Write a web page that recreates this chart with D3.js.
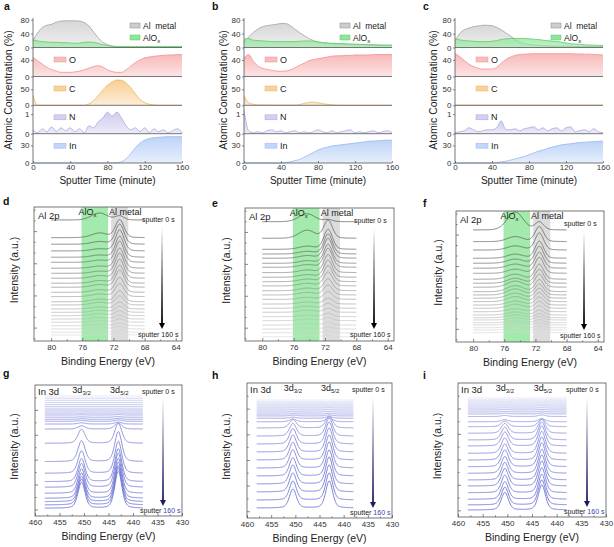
<!DOCTYPE html>
<html><head><meta charset="utf-8">
<script src="https://cdn.jsdelivr.net/npm/d3@7"></script>
<style>body{margin:0;background:#fff}svg{display:block}</style>
</head><body>
<script>
// ---------------- DATA ----------------
const time = [0,5,10,15,20,25,30,35,40,45,50,55,60,65,70,75,80,85,90,95,100,105,110,115,120,125,130,135,140,145,150,155,160];
const timeTicks = [0,40,80,120,160];

// panel a
const alMetalA = [20,42,58,64,67,73,76,77,77,77,76,72,62,45,28,15,8,4,2,1,1,0.5,0.5,0.5,0.5,0.5,0.5,0.5,0.5,0.5,0.5,0.5,0.5];
const alOxA    = [22,19,17,16,15,15,14,14,13,12,13,15,16,15,12,8,6,4,3,3,3,3,3,3,3,3,3,3,3,3,3,3,3];
const oA       = [46,38,30,22,17,13,10,10,10,11,13,16,20,24,26,23,16,12,10,10,16,25,34,40,45,47,49,50,51,52,52,53,53];
const cA       = [30,0,0,0,0,0,0,0,0,0,0,0,4,14,30,48,63,73,79,78,70,55,35,18,8,3,1,0,0,0,0,0,0];
const nA       = [0.2,0.05,0.25,0.1,0.35,0.1,0.3,0.15,0.3,0.1,0.25,0.05,0.4,0.3,0.6,0.8,1.1,0.9,1.1,0.8,0.4,0.2,0.3,0.1,0.3,0.05,0.25,0.1,0.2,0.05,0.15,0.25,0.05];
const inA      = [0,0,0,0,0,0,0,0,0,0,0,0,0,0,0,0,0,0,0.5,2,7,16,26,34,39,42,43,44,44.5,45,45,45,45];
// panel b
const alMetalB = [15,30,43,53,60,63,65,67,69,69,63,53,43,34,26,20,16,14,12,11,10,10,9,9,8,8,8,7,7,7,6,6,6];
const alOxB    = [24,26,21,20,19,18,17,17,17,17,17,17,18,19,19,18,16,14,13,12,12,11,11,10,10,9,9,8,8,7,7,7,7];
const oB       = [44,53,37,25,20,17,15,13,12.5,13,16,21,27,32,38,41,43,45,47,49,50,50,51,51,52,52,52,52,53,53,53,53,53];
const cB       = [30,8,3,1,1,1,0.5,0.5,0.5,0.5,0.5,0.5,2,6,9,10,8,5,3,1,0.5,0,0,0,0,0,0,0,0,0,0,0,0];
const nB       = [1.2,0.15,0.05,0.1,0.05,0.15,0.2,0.1,0.15,0.05,0.1,0.15,0.05,0.1,0.05,0.1,0.2,0.1,0.05,0.15,0.05,0.1,0.15,0.2,0.05,0.1,0.05,0.1,0.15,0.05,0.1,0.15,0.05];
const inB      = [0,0,0,0,0,0,0,0,0,0.5,2,4,6,10,14,18,22,25,27,29,30,31,32,33,34,35,36,37,37.5,38,38.5,39,39];
// panel c
const alMetalC = [18,40,51,56,60,62,64,64,63,58,51,42,33,23,15,11,9,7,6,5,5,4,4,4,4,4,3,3,3,3,3,3,3];
const alOxC    = [25,22,20,19,18,17,17,17,18,20,23,25,26,26,26,26,25,24,23,21,20,18,17,15,13,11,10,9,8,7,7,6,6];
const oC       = [56,48,39,30,24,20,18,18,18,22,32,41,47,51,53,54,54.5,55,55,55,55,55,55,55,55,55,54.5,54.5,54,54,53,52.5,52];
const cC       = [0.3,0.3,0.3,0.3,0.3,0.3,0.3,0.3,0.3,0.3,0.3,0.3,0.3,0.3,0.3,0.3,0.3,0.3,0.3,0.3,0.3,0.3,0.3,0.3,0.3,0.3,0.3,0.3,0.3,0.3,0.3,0.3,0.3];
const nC       = [0.05,0.1,0.15,0.3,0.2,0.1,0.15,0.2,0.2,0.3,0.65,0.2,0.2,0.25,0.15,0.25,0.3,0.35,0.2,0.3,0.15,0.25,0.3,0.15,0.3,0.35,0.1,0.15,0.2,0.1,0.25,0.1,0.05];
const inC      = [0,0,0,0,0,0,0,0,0,0.5,2,3,5,7,9,11,14,17,20,22,25,27,29,31,32,33,34,35,35.5,36,36.5,37,37.5];

// Al 2p spectra: baseline offset, Al-metal peak height, AlOx peak height (intensity units 0-100 of frame)
const alBaseD = [90.3,77.1,72.2,67.2,62.5,58.7,54.3,50.5,46.8,43.1,40.1,36.3,33.1,29.3,26.9,23.9,21.4,18.9,16.4,14.0,11.4,9.0,6.5,4.5];
const alMetD  = [3,13.4,15,15.7,15.7,15.7,15,15,14.2,13.4,12.7,11.2,9.7,8.2,6.7,5.2,4.5,3.7,3,2.6,2.2,1.9,1.5,1.5];
const alOxD   = [5.2,3.4,1.9,1.5,1.5,1.5,1.5,1.5,1.9,1.9,1.9,1.9,1.9,1.9,1.9,1.5,1.5,1.5,1.1,1.1,1.1,1.1,0.7,0.7];
const alBaseE = [89.7,77.2,68.9,65.4,62.2,58.4,55.4,51.4,47.9,44.6,41.4,37.8,34.6,31.3,27.8,24.6,21.6,18.3,15.3,12.0,9.0,6.2,3.2];
const alMetE  = [1.5,13.5,15,15,15,14.3,14.3,13.5,12.8,12,10.5,9,7.5,6,4.5,3.8,3,2.6,2.3,1.9,1.5,1.5,1.1];
const alOxE   = [6,6,2.3,1.9,1.9,1.9,1.9,1.9,1.9,1.9,1.9,1.9,1.9,1.5,1.5,1.5,1.5,1.1,1.1,1.1,0.8,0.8,0.8];
const alBaseF = [85.5,76.6,70.2,63.9,60.1,56.3,52.4,47.9,44.8,41.8,38.4,35.9,33.4,30.8,28.2,25.7,23.1,20.6,18.5,16.8,14.7,13.0,10.9,9.2,7.1];
const alMetF  = [6.1,11.5,13,13,13,12.2,12.2,11.5,10.7,9.9,9.2,8.4,7.6,6.9,6.1,5.3,4.6,3.8,3.1,2.7,2.3,1.9,1.5,1.5,1.1];
const alOxF   = [13.7,3.8,3.1,3.1,3.1,3.1,3.1,3.8,3.8,4.6,4.6,4.6,3.8,3.8,3.1,3.1,2.3,2.3,2.3,1.5,1.5,1.5,1.5,1.1,1.1];
const alTicks = [80,76,72,68,64];
const alMinor = [78,74,70,66];

// In 3d spectra: baseline offset, 3d5/2 height, 3d3/2 height
const inBaseG = [91.6,89.9,88.3,86.6,85.0,83.4,81.7,80.2,78.6,77.1,75.4,73.8,72.3,70.2,66.4,55.5,41.5,32.6,26.2,21.9,17.3,13.5,10.9,8.4,5.9];
const in52G   = [0,0,0,0,0,0,0,0,0,0.3,0.5,0.7,1,1.5,4.6,15.3,22.9,24.4,25.2,26,26.7,27.5,27.5,28.2,28.2];
const in32G   = [0,0,0,0,0,0,0,0,0,0.2,0.3,0.5,0.7,1,2.5,10.7,16,17.1,17.6,18.2,18.7,19.2,19.2,19.7,19.7];
const inBaseH = [87.4,85.9,84.4,83.0,81.5,80.0,78.5,77.0,75.6,73.9,71.3,66.7,60.7,54.8,48.9,43.0,37.0,31.1,25.2,19.3,13.3,7.4];
const in52H   = [0,0,0,0,0.2,0.3,0.4,0.6,0.8,1.2,3,8.9,13.3,16.3,17.8,18.5,19.3,19.3,20,20,20,20];
const in32H   = [0,0,0,0,0.1,0.2,0.3,0.4,0.6,0.8,2,6.2,9.3,11.4,12.5,13,13.5,13.5,14,14,14,14];
const inBaseI = [88.8,87.3,85.8,84.3,82.8,81.3,79.9,78.4,76.9,75.0,71.1,67.4,62.5,57.5,53.0,47.5,42.5,37.5,32.6,27.6,23.1,18.1,13.2,9.0,5.2];
const in52I   = [0,0,0,0,0.2,0.3,0.4,0.6,0.8,1.2,2.2,6,10.4,13.4,14.9,16.4,17.2,17.9,17.9,18.7,18.7,18.7,18.7,18.7,18.7];
const in32I   = [0,0,0,0,0.1,0.2,0.3,0.4,0.6,0.8,1.5,4.2,7.3,9.4,10.4,11.5,12,12.5,12.5,13.1,13.1,13.1,13.1,13.1,13.1];
const inTicks = [460,455,450,445,440,435,430];
const inMinor = [457.5,452.5,447.5,442.5,437.5,432.5];

// ---------------- DRAW ----------------
const W = 614, H = 547;
const FONT = 'Arial, "Liberation Sans", Helvetica, sans-serif';
const svg = d3.select('body').append('svg').attr('width', W).attr('height', H).style('font-family', FONT);
svg.append('rect').attr('width', W).attr('height', H).attr('fill', '#fff');
const defs = svg.append('defs');
const TXT = '#222', AX = '#555';

function letter(t, x, y) {
  svg.append('text').attr('x', x).attr('y', y).attr('font-size', 10.5).attr('font-weight', 'bold').attr('fill', '#111').text(t);
}
function styleAxis(sel, fs) {
  sel.selectAll('path.domain').remove();
  sel.selectAll('line').attr('stroke', AX).attr('stroke-width', 0.7);
  sel.selectAll('text').attr('font-size', fs).attr('fill', '#333').attr('font-family', FONT);
}

// ---- depth profiles (a,b,c)
const colors = {
  al: {fill: '#cdcdcd', line: '#a3a3a3'},
  ox: {fill: '#8ee69a', line: '#5ccb69'},
  O:  {fill: '#f6a7a7', line: '#f29090'},
  C:  {fill: '#f7c37a', line: '#f0b560'},
  N:  {fill: '#c3bfeb', line: '#aca7de'},
  In: {fill: '#adc9f4', line: '#98b8ef'}
};
Object.entries(colors).forEach(([k, c]) => {
  const g = defs.append('linearGradient').attr('id', 'g_' + k).attr('x1', 0).attr('y1', 0).attr('x2', 0).attr('y2', 1);
  g.append('stop').attr('offset', 0).attr('stop-color', c.fill).attr('stop-opacity', k === 'ox' ? 0.75 : 0.8);
  g.append('stop').attr('offset', 1).attr('stop-color', c.fill).attr('stop-opacity', k === 'ox' ? 0.55 : 0.3);
});

const subBounds = [18, 47.5, 76.5, 105.3, 133.7, 163];
const subDefs = [
  {keys: ['al', 'ox'], domain: [0, 85], ticks: [0, 40, 80]},
  {keys: ['O'], domain: [0, 70], ticks: [0, 40], label: 'O'},
  {keys: ['C'], domain: [0, 90], ticks: [0, 50], label: 'C'},
  {keys: ['N'], domain: [0, 1.45], ticks: [0, 1], label: 'N'},
  {keys: ['In'], domain: [0, 50], ticks: [0, 30], label: 'In'}
];
const profiles = [
  {letter: 'a', lx: 4, x0: 33, x1: 182, ylx: 12, s: {al: alMetalA, ox: alOxA, O: oA, C: cA, N: nA, In: inA}},
  {letter: 'b', lx: 212, x0: 244, x1: 392, ylx: 227, s: {al: alMetalB, ox: alOxB, O: oB, C: cB, N: nB, In: inB}},
  {letter: 'c', lx: 423, x0: 455, x1: 603, ylx: 437, s: {al: alMetalC, ox: alOxC, O: oC, C: cC, N: nC, In: inC}}
];

profiles.forEach(p => {
  letter(p.letter, p.lx, 10);
  const g = svg.append('g');
  const x = d3.scaleLinear().domain([0, 160]).range([p.x0, p.x1]);
  subDefs.forEach((s, k) => {
    const yTop = subBounds[k], yBot = subBounds[k + 1];
    const y = d3.scaleLinear().domain(s.domain).range([yBot, yTop]);
    s.keys.forEach(key => {
      const vals = p.s[key];
      const area = d3.area().x((d, i) => x(time[i])).y0(yBot).y1(d => y(d)).curve(d3.curveMonotoneX);
      const line = d3.line().x((d, i) => x(time[i])).y(d => y(d)).curve(d3.curveMonotoneX);
      g.append('path').datum(vals).attr('d', area).attr('fill', `url(#g_${key})`);
      g.append('path').datum(vals).attr('d', line).attr('fill', 'none').attr('stroke', colors[key].line).attr('stroke-width', 0.8);
    });
    const ax = g.append('g').attr('transform', `translate(${p.x0},0)`)
      .call(d3.axisLeft(y).tickValues(s.ticks).tickFormat(d3.format('~g')).tickSize(2).tickPadding(1.5));
    styleAxis(ax, 8);
    g.append('line').attr('x1', p.x0).attr('x2', p.x1).attr('y1', yBot).attr('y2', yBot).attr('stroke', AX).attr('stroke-width', 0.8);
    if (s.label) {
      const ly = yTop + 9.5;
      g.append('rect').attr('x', p.x0 + 21).attr('y', ly).attr('width', 12).attr('height', 5)
        .attr('fill', colors[s.keys[0]].fill).attr('fill-opacity', 0.75).attr('stroke', colors[s.keys[0]].line).attr('stroke-width', 0.5);
      g.append('text').attr('x', p.x0 + 36).attr('y', ly + 5.5).attr('font-size', 9).attr('fill', TXT).text(s.label);
    } else {
      const lx = p.x1 - 52;
      g.append('rect').attr('x', lx).attr('y', 23).attr('width', 10).attr('height', 5)
        .attr('fill', colors.al.fill).attr('stroke', '#888').attr('stroke-width', 0.5);
      g.append('text').attr('x', lx + 13).attr('y', 28.5).attr('font-size', 8.5).attr('fill', TXT).attr('xml:space', 'preserve').text('Al  metal');
      g.append('rect').attr('x', lx).attr('y', 35).attr('width', 10).attr('height', 5)
        .attr('fill', colors.ox.fill).attr('stroke', colors.ox.line).attr('stroke-width', 0.5);
      const t = g.append('text').attr('x', lx + 13).attr('y', 40.5).attr('font-size', 8.5).attr('fill', TXT).text('AlO');
      t.append('tspan').attr('dy', 2).attr('font-size', 6).text('x');
    }
  });
  g.append('line').attr('x1', p.x0).attr('x2', p.x0).attr('y1', subBounds[0]).attr('y2', subBounds[5]).attr('stroke', AX).attr('stroke-width', 0.8);
  const xa = g.append('g').attr('transform', `translate(0,${subBounds[5]})`)
    .call(d3.axisBottom(x).tickValues(timeTicks).tickSize(-2).tickPadding(1));
  styleAxis(xa, 8);
  svg.append('text').attr('x', (p.x0 + p.x1) / 2).attr('y', 184).attr('text-anchor', 'middle').attr('font-size', 10).attr('fill', TXT).text('Sputter Time (minute)');
  svg.append('text').attr('transform', `translate(${p.ylx},${90}) rotate(-90)`).attr('text-anchor', 'middle').attr('font-size', 10.5).attr('fill', TXT).text('Atomic Concentration (%)');
});

// ---- spectra helpers
function pv(e, c, w, eta) {
  const d = (e - c) / w;
  return eta / (1 + 4 * d * d) + (1 - eta) * Math.exp(-4 * Math.LN2 * d * d);
}
let clipId = 0;
function arrow(g, ax, ya, yb, endColor, id) {
  const gr = defs.append('linearGradient').attr('id', id).attr('x1', 0).attr('y1', 0).attr('x2', 0).attr('y2', 1);
  gr.append('stop').attr('offset', 0).attr('stop-color', '#fff');
  gr.append('stop').attr('offset', 1).attr('stop-color', endColor);
  g.append('rect').attr('x', ax - 0.9).attr('y', ya).attr('width', 1.8).attr('height', yb - ya - 5).attr('fill', `url(#${id})`);
  g.append('path').attr('d', `M${ax - 3},${yb - 6} L${ax + 3},${yb - 6} L${ax},${yb} Z`).attr('fill', endColor);
}
function frameAxes(g, p, x, y, ticks, minor, yMajor, yMinor) {
  g.append('rect').attr('x', p.x0).attr('y', p.y0).attr('width', p.x1 - p.x0).attr('height', p.y1 - p.y0)
    .attr('fill', 'none').attr('stroke', AX).attr('stroke-width', 0.8);
  const xa = g.append('g').attr('transform', `translate(0,${p.y1})`).call(d3.axisBottom(x).tickValues(ticks).tickSize(-3).tickPadding(3));
  styleAxis(xa, 8);
  const xm = g.append('g').attr('transform', `translate(0,${p.y1})`).call(d3.axisBottom(x).tickValues(minor).tickSize(-1.6).tickFormat(''));
  styleAxis(xm, 8);
  const ya = g.append('g').attr('transform', `translate(${p.x0},0)`).call(d3.axisLeft(y).tickValues(yMajor).tickSize(-3).tickFormat(''));
  styleAxis(ya, 8);
  const ym = g.append('g').attr('transform', `translate(${p.x0},0)`).call(d3.axisLeft(y).tickValues(yMinor).tickSize(-1.6).tickFormat(''));
  styleAxis(ym, 8);
  g.append('text').attr('x', (p.x0 + p.x1) / 2).attr('y', p.y1 + 24).attr('text-anchor', 'middle').attr('font-size', 10.5).attr('fill', TXT).text('Binding Energy (eV)');
  g.append('text').attr('transform', `translate(${p.ylx},${(p.y0 + p.y1) / 2 - 4}) rotate(-90)`).attr('text-anchor', 'middle').attr('font-size', 10.5).attr('fill', TXT).text('Intensity (a.u.)');
}
function clip(p) {
  const id = 'clip' + (clipId++);
  defs.append('clipPath').attr('id', id).append('rect').attr('x', p.x0).attr('y', p.y0).attr('width', p.x1 - p.x0).attr('height', p.y1 - p.y0);
  return id;
}

// ---- Al 2p (d,e,f)
const alPanels = [
  {letter: 'd', lx: 3, ly: 205, x0: 34, x1: 182, y0: 207, y1: 341, ylx: 18, base: alBaseD, met: alMetD, ox: alOxD, cM: 71.2, cO: 73.8},
  {letter: 'e', lx: 212, ly: 207, x0: 245, x1: 394, y0: 208, y1: 341, ylx: 230, base: alBaseE, met: alMetE, ox: alOxE, cM: 71.6, cO: 74.3},
  {letter: 'f', lx: 423, ly: 207, x0: 456, x1: 604, y0: 211, y1: 342, ylx: 442, base: alBaseF, met: alMetF, ox: alOxF, cM: 71.5, cO: 74.6}
];
const alEnergies = d3.range(80, 67.999, -0.05);
alPanels.forEach((p, pi) => {
  letter(p.letter, p.lx, p.ly);
  const g = svg.append('g');
  const x = d3.scaleLinear().domain([82.2, 63.2]).range([p.x0, p.x1]);
  const y = d3.scaleLinear().domain([0, 100]).range([p.y1, p.y0]);
  const cid = clip(p);
  const pg = g.append('g').attr('clip-path', `url(#${cid})`);
  pg.append('rect').attr('x', x(76.1)).attr('y', p.y0).attr('width', x(72.7) - x(76.1)).attr('height', p.y1 - p.y0).attr('fill', '#a3eaac');
  pg.append('rect').attr('x', x(72.3)).attr('y', p.y0).attr('width', x(70.1) - x(72.3)).attr('height', p.y1 - p.y0).attr('fill', '#dcdcdc');
  const n = p.base.length;
  const col = d3.interpolateRgb('#4a4a4a', '#d9d9d9');
  const line = d3.line().x(d => x(d[0])).y(d => y(d[1])).curve(d3.curveLinear);
  for (let i = n - 1; i >= 0; i--) {
    const pts = alEnergies.map(e => [e, p.base[i] + p.met[i] * pv(e, p.cM, 1.3, 0.2) + p.ox[i] * pv(e, p.cO, 2.4, 0.1)]);
    pg.append('path').datum(pts).attr('d', line).attr('fill', 'none').attr('stroke', col(i / (n - 1))).attr('stroke-width', 0.7);
  }
  frameAxes(g, p, x, y, alTicks, alMinor, [10, 34, 58, 82], [2, 18, 26, 42, 50, 66, 74, 90, 98]);
  g.append('text').attr('x', p.x0 + 4).attr('y', p.y0 + 12).attr('font-size', 9.5).attr('fill', TXT).text('Al 2p');
  const t = g.append('text').attr('x', x(76.1) - 3).attr('y', p.y0 + 8).attr('font-size', 9).attr('fill', TXT).text('AlO');
  t.append('tspan').attr('dy', 2).attr('font-size', 6).text('x');
  g.append('text').attr('x', x(72.3) - 2).attr('y', p.y0 + 8).attr('font-size', 9).attr('fill', TXT).text('Al metal');
  g.append('text').attr('x', p.x1 - 40).attr('y', p.y0 + 15).attr('font-size', 7).attr('fill', TXT).text('sputter 0 s');
  g.append('text').attr('x', p.x1 - 44).attr('y', p.y1 - 4).attr('font-size', 7).attr('fill', TXT).text('sputter 160 s');
  arrow(g, p.x1 - 20, p.y0 + 20, p.y1 - 12, '#000', 'arrAl' + pi);
});

// ---- In 3d (g,h,i)
const inPanels = [
  {letter: 'g', lx: 3, ly: 377, x0: 35, x1: 182, y0: 385, y1: 516, ylx: 18, base: inBaseG, p52: in52G, p32: in32G},
  {letter: 'h', lx: 212, ly: 379, x0: 247, x1: 392, y0: 383, y1: 518, ylx: 230, base: inBaseH, p52: in52H, p32: in32H},
  {letter: 'i', lx: 423, ly: 379, x0: 458, x1: 606, y0: 383, y1: 517, ylx: 441, base: inBaseI, p52: in52I, p32: in32I}
];
const inEnergies = d3.range(458, 437.999, -0.1);
inPanels.forEach((p, pi) => {
  letter(p.letter, p.lx, p.ly);
  const g = svg.append('g');
  const x = d3.scaleLinear().domain([460, 430]).range([p.x0, p.x1]);
  const y = d3.scaleLinear().domain([0, 100]).range([p.y1, p.y0]);
  const cid = clip(p);
  const pg = g.append('g').attr('clip-path', `url(#${cid})`);
  const n = p.base.length;
  const col = d3.interpolateRgb('#e2e4f8', '#6b72d3');
  const line = d3.line().x(d => x(d[0])).y(d => y(d[1]));
  for (let i = n - 1; i >= 0; i--) {
    const pts = inEnergies.map(e => [e, p.base[i] + p.p52[i] * pv(e, 443.0, 1.7, 0.35) + p.p32[i] * pv(e, 450.5, 1.7, 0.35)]);
    pg.append('path').datum(pts).attr('d', line).attr('fill', 'none').attr('stroke', col(Math.pow(i / (n - 1), 0.5))).attr('stroke-width', 0.9);
  }
  frameAxes(g, p, x, y, inTicks, inMinor, [5, 24, 43, 62, 81], [14.5, 33.5, 52.5, 71.5, 90.5]);
  g.append('text').attr('x', p.x0 + 3).attr('y', p.y0 + 10).attr('font-size', 9.5).attr('fill', TXT).text('In 3d');
  const t1 = g.append('text').attr('x', x(450.5)).attr('y', p.y0 + 8).attr('text-anchor', 'middle').attr('font-size', 9).attr('fill', TXT).text('3d');
  t1.append('tspan').attr('dy', 2).attr('font-size', 6).text('3/2');
  const t2 = g.append('text').attr('x', x(443.0) + 1).attr('y', p.y0 + 8).attr('text-anchor', 'middle').attr('font-size', 9).attr('fill', TXT).text('3d');
  t2.append('tspan').attr('dy', 2).attr('font-size', 6).text('5/2');
  g.append('text').attr('x', p.x1 - 40).attr('y', p.y0 + 9).attr('font-size', 7).attr('fill', TXT).text('sputter 0 s');
  const t3 = g.append('text').attr('x', p.x1 - 42).attr('y', p.y1 - 3).attr('font-size', 7).attr('fill', TXT).text('sputter ');
  t3.append('tspan').attr('fill', '#3444b0').text('160 s');
  arrow(g, p.x1 - 19, p.y0 + 13, p.y1 - 10, '#1c1c66', 'arrIn' + pi);
});
</script>
</body></html>
